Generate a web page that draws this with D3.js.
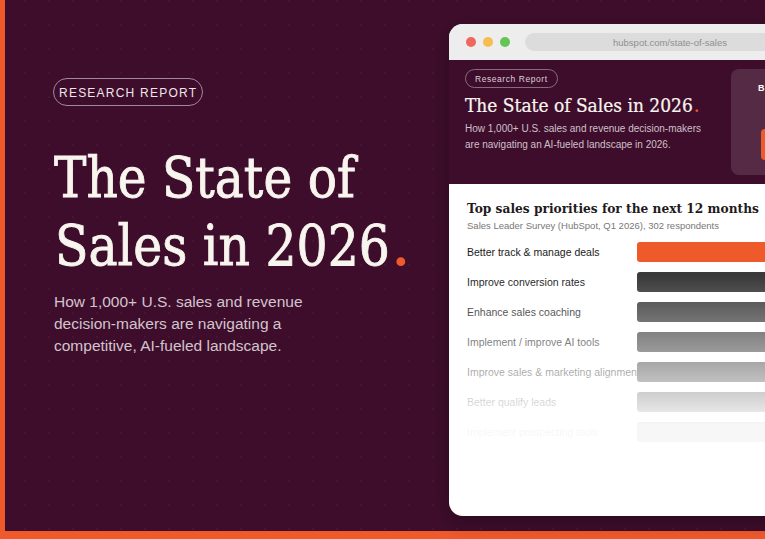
<!DOCTYPE html>
<html>
<head>
<meta charset="utf-8">
<script src="https://cdn.jsdelivr.net/npm/d3@7"></script>
<style>
  html, body { margin: 0; padding: 0; background: #3e0d2b; overflow: hidden; }
  text { font-family: "Liberation Sans", Arial, sans-serif; }
  .serif { font-family: "DejaVu Serif", serif; }
</style>
</head>
<body>
<div id="canvas"></div>
<script>
let categories = ["Better track & manage deals", "Improve conversion rates", "Enhance sales coaching",
  "Implement / improve AI tools", "Improve sales & marketing alignment", "Better qualify leads", "Implement prospecting tools"]
let values = [62, 55, 50, 46, 42, 38, 34]
let dotColumns = d3.range(0, 32)
let dotRows = d3.range(0, 23)
let trafficLights = ["#f0665e", "#f6bd4f", "#62c554"]

let orange = "#ef5a2b"
let plum = "#3e0d2b"
let svg = {}

window.onload = function (){setup()}

function setup(){
  setupSVGCanvas()
  drawBackground()
  drawHero()
  drawWindow()
  drawChart()
}

function setupSVGCanvas(){
  svg = d3.select("#canvas")
    .append("svg")
    .attr("width", 765)
    .attr("height", 539)
    .style("display", "block")

  let defs = svg.append("defs")

  let shadow = defs.append("filter").attr("id", "shadow")
    .attr("x", "-20%").attr("y", "-20%").attr("width", "140%").attr("height", "140%")
  shadow.append("feDropShadow")
    .attr("dx", 0).attr("dy", 6).attr("stdDeviation", 10)
    .attr("flood-color", "#000").attr("flood-opacity", 0.3)

  let fade = defs.append("linearGradient").attr("id", "fade")
    .attr("gradientUnits", "userSpaceOnUse")
    .attr("x1", 0).attr("x2", 0).attr("y1", 276).attr("y2", 425)
  fade.append("stop").attr("offset", 0).attr("stop-color", "#fff").attr("stop-opacity", 0)
  fade.append("stop").attr("offset", 1).attr("stop-color", "#fff").attr("stop-opacity", 0.96)

  defs.append("clipPath").attr("id", "windowClip")
    .append("rect").attr("x", 449).attr("y", 24).attr("width", 400).attr("height", 492).attr("rx", 14)
}

// squeeze a text sideways so it fills the width the reference font gave it
function fitWidth(sel, width){
  let x0 = +sel.attr("x")
  let k = width / sel.node().getComputedTextLength()
  sel.attr("transform", `translate(${x0},0) scale(${k},1) translate(${-x0},0)`)
  return sel
}

function drawBackground(){
  svg.append("rect").attr("width", 765).attr("height", 539).attr("fill", plum)

  let dots = dotRows.flatMap(r => dotColumns.map(c => [c, r]))
  svg.append("g").selectAll("rect")
    .data(dots)
    .join("rect")
    .attr("x", d => 24 + d[0] * 24)
    .attr("y", d => d[1] * 24)
    .attr("width", 2)
    .attr("height", 2)
    .attr("fill", "#fff")
    .attr("opacity", 0.04)

  svg.append("rect").attr("width", 5).attr("height", 539).attr("fill", orange)
  svg.append("rect").attr("y", 531).attr("width", 765).attr("height", 8).attr("fill", orange)
}

function drawHero(){
  svg.append("rect")
    .attr("x", 53.5).attr("y", 78.5).attr("width", 149).attr("height", 27).attr("rx", 13.5)
    .attr("fill", "none").attr("stroke", "#a08a99").attr("stroke-width", 1)
  svg.append("text")
    .attr("x", 59).attr("y", 97)
    .attr("font-size", 12).attr("fill", "#eee6ea")
    .attr("textLength", 137)
    .text("RESEARCH REPORT")

  let line1 = svg.append("text").attr("class", "serif")
    .attr("x", 54).attr("y", 197)
    .attr("font-size", 56).attr("fill", "#f8f5ef")
    .attr("stroke", "#f8f5ef").attr("stroke-width", 0.9)
    .text("The State of")
  fitWidth(line1, 301)

  let line2 = svg.append("text").attr("class", "serif")
    .attr("x", 55).attr("y", 265)
    .attr("font-size", 56).attr("fill", "#f8f5ef")
    .attr("stroke", "#f8f5ef").attr("stroke-width", 0.9)
    .text("Sales in 2026")
  fitWidth(line2, 335)

  svg.append("text").attr("class", "serif")
    .attr("x", 390).attr("y", 265)
    .attr("font-size", 68).attr("fill", orange)
    .text(".")

  let subLines = ["How 1,000+ U.S. sales and revenue", "decision-makers are navigating a", "competitive, AI-fueled landscape."]
  svg.append("g").selectAll("text")
    .data(subLines)
    .join("text")
    .attr("x", 54)
    .attr("y", (d, i) => 307 + i * 22)
    .attr("font-size", 15.5)
    .attr("fill", "#d2c4cd")
    .text(d => d)
}

function drawWindow(){
  svg.append("rect")
    .attr("x", 449).attr("y", 24).attr("width", 400).attr("height", 492).attr("rx", 14)
    .attr("fill", "#fff").attr("filter", "url(#shadow)")

  let win = svg.append("g").attr("clip-path", "url(#windowClip)")
  win.append("rect").attr("x", 449).attr("y", 24).attr("width", 400).attr("height", 36).attr("fill", "#ededed")

  win.selectAll("circle")
    .data(trafficLights)
    .join("circle")
    .attr("cx", (d, i) => 471 + i * 17)
    .attr("cy", 42)
    .attr("r", 5)
    .attr("fill", d => d)

  win.append("rect").attr("x", 525).attr("y", 33).attr("width", 300).attr("height", 18).attr("rx", 9).attr("fill", "#dcdcdc")
  win.append("text").attr("x", 613).attr("y", 46)
    .attr("font-size", 9.5).attr("fill", "#8f8f8f").attr("textLength", 114)
    .text("hubspot.com/state-of-sales")

  // plum header
  win.append("rect").attr("x", 449).attr("y", 60).attr("width", 400).attr("height", 124).attr("fill", plum)

  win.append("rect")
    .attr("x", 465.5).attr("y", 69.5).attr("width", 92).attr("height", 18).attr("rx", 9)
    .attr("fill", "none").attr("stroke", "#856d7c")
  win.append("text").attr("x", 475).attr("y", 82)
    .attr("font-size", 8.5).attr("fill", "#dcd0d7").attr("textLength", 72)
    .text("Research Report")

  let small = win.append("text").attr("class", "serif")
    .attr("x", 465).attr("y", 112)
    .attr("font-size", 18.5).attr("fill", "#f8f5ef")
    .attr("stroke", "#f8f5ef").attr("stroke-width", 0.25)
    .text("The State of Sales in 2026")
  fitWidth(small, 228)

  win.append("text").attr("class", "serif")
    .attr("x", 693.5).attr("y", 112)
    .attr("font-size", 20).attr("fill", orange)
    .text(".")

  let headerLines = ["How 1,000+ U.S. sales and revenue decision-makers", "are navigating an AI-fueled landscape in 2026."]
  win.append("g").selectAll("text")
    .data(headerLines)
    .join("text")
    .attr("x", 465)
    .attr("y", (d, i) => 132 + i * 16)
    .attr("font-size", 10)
    .attr("fill", "#cfc0ca")
    .text(d => d)

  win.append("rect").attr("x", 731).attr("y", 69).attr("width", 100).attr("height", 106).attr("rx", 8)
    .attr("fill", "#fff").attr("opacity", 0.12)
  win.append("text").attr("x", 758).attr("y", 91)
    .attr("font-size", 9).attr("font-weight", "bold").attr("fill", "#fff")
    .text("B")
  win.append("rect").attr("x", 761).attr("y", 129).attr("width", 60).attr("height", 31).attr("rx", 4).attr("fill", orange)
}

function drawChart(){
  let win = svg.append("g").attr("clip-path", "url(#windowClip)")

  let heading = win.append("text").attr("class", "serif")
    .attr("x", 467).attr("y", 213)
    .attr("font-size", 13).attr("font-weight", "bold").attr("fill", "#1f1a1d")
    .text("Top sales priorities for the next 12 months")
  fitWidth(heading, 292)

  win.append("text")
    .attr("x", 467).attr("y", 229)
    .attr("font-size", 9.5).attr("fill", "#777")
    .attr("textLength", 252)
    .text("Sales Leader Survey (HubSpot, Q1 2026), 302 respondents")

  let y = d3.scaleBand()
    .domain(categories)
    .range([242, 442])
    .paddingInner(1 / 3)

  let x = d3.scaleLinear()
    .domain([0, 100])
    .range([637, 1037])

  win.append("g").selectAll("text")
    .data(categories)
    .join("text")
    .attr("x", 467)
    .attr("y", d => y(d) + y.bandwidth() / 2 + 3.5)
    .attr("font-size", 10.5)
    .attr("fill", "#1a1a1a")
    .text(d => d)

  win.append("g").selectAll("rect")
    .data(categories)
    .join("rect")
    .attr("x", x(0))
    .attr("y", d => y(d))
    .attr("width", (d, i) => x(values[i]) - x(0))
    .attr("height", y.bandwidth())
    .attr("rx", 3)
    .attr("fill", (d, i) => i == 0 ? orange : "#3a3a3a")

  // list fades out to white towards the bottom
  win.append("rect")
    .attr("x", 449).attr("y", 270).attr("width", 400).attr("height", 190)
    .attr("fill", "url(#fade)")
}
</script>
</body>
</html>
